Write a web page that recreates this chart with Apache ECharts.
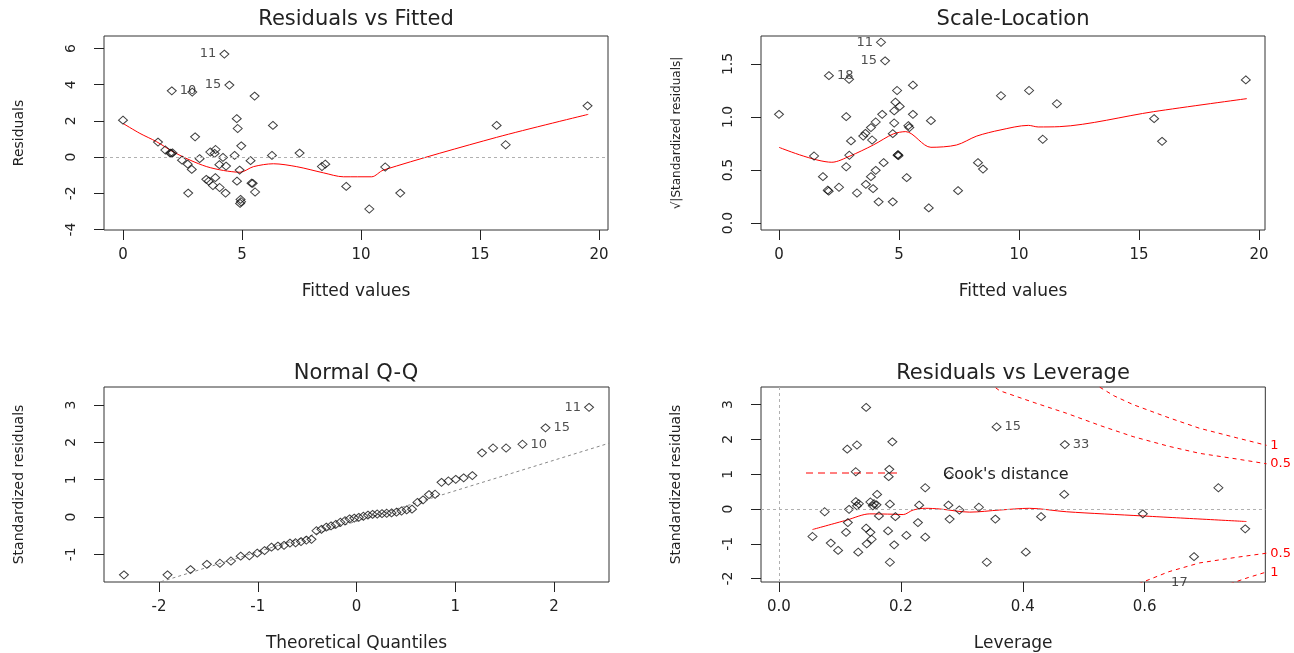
<!DOCTYPE html>
<html>
<head>
<meta charset="utf-8">
<title>lm diagnostics</title>
<script src="https://cdn.jsdelivr.net/npm/echarts@6/dist/echarts.min.js"></script>
<style>
  html, body { margin: 0; padding: 0; background: #fff; }
  #chart { width: 1294px; height: 653px; }
</style>
</head>
<body>
<div id="chart"></div>
<script>
// ---- Residuals vs Fitted ----
const rvfFitted = [0.00, 4.26, 4.47, 2.05, 2.91, 5.53, 4.78, 4.82, 6.30, 3.03, 1.47, 4.97, 1.78, 1.98, 2.03, 2.08,
  3.89, 3.67, 3.85, 4.20, 4.69, 3.22, 2.48, 6.26, 7.42, 5.36, 2.72, 2.89, 4.05, 4.33, 4.90, 8.36, 8.50, 3.50, 3.60,
  3.88, 3.78, 4.06, 4.79, 5.40, 5.45, 4.31, 2.74, 5.55, 4.94, 4.96, 4.92, 9.38, 10.35, 11.02, 11.65, 15.70, 16.08, 19.52];
const rvfResid = [2.04, 5.69, 3.98, 3.66, 3.59, 3.37, 2.12, 1.58, 1.75, 1.12, 0.83, 0.62, 0.39, 0.22, 0.20, 0.23,
  0.42, 0.28, 0.20, -0.02, 0.09, -0.09, -0.17, 0.09, 0.22, -0.20, -0.39, -0.68, -0.42, -0.50, -0.72, -0.52, -0.39, -1.23, -1.33,
  -1.14, -1.57, -1.68, -1.33, -1.44, -1.45, -1.99, -1.99, -1.93, -2.34, -2.47, -2.56, -1.62, -2.87, -0.55, -1.99, 1.75, 0.68, 2.83];
const rvfSmoothX = [0, 0.71, 1.41, 2.11, 2.82, 3.52, 4.22, 4.92, 5.48, 6.32, 7.3, 8.42, 9.26, 10.45, 10.94, 15.7, 19.55];
const rvfSmoothY = [1.86, 1.31, 0.85, 0.29, -0.17, -0.53, -0.74, -0.84, -0.53, -0.37, -0.53, -0.87, -1.09, -1.09, -0.72, 1.09, 2.36];
const rvfIdIndex = [1, 2, 3];
const rvfIdText = ['11', '15', '10'];
const rvfXTicks = [0, 5, 10, 15, 20];
const rvfYTicks = [-4, -2, 0, 2, 4, 6];

// ---- Scale-Location ----
const slFitted = [0.00, 4.25, 4.42, 2.08, 2.92, 5.58, 4.92, 4.85, 5.03, 4.80, 4.30, 5.58, 2.80, 4.03, 3.83, 4.80,
  6.33, 5.39, 5.43, 3.60, 3.51, 3.88, 4.74, 3.00, 1.46, 2.93, 4.94, 4.98, 4.96, 4.36, 4.03, 3.83, 5.32, 1.83, 2.03,
  2.07, 2.50, 3.62, 3.92, 3.25, 4.15, 4.74, 6.24, 8.29, 8.50, 7.46, 9.25, 10.42, 11.58, 10.99, 15.63, 15.96, 19.45, 2.80];
const slRootStd = [1.025, 1.705, 1.53, 1.39, 1.355, 1.30, 1.25, 1.14, 1.10, 1.057, 1.025, 1.025, 1.003, 0.953, 0.90, 0.943,
  0.965, 0.918, 0.90, 0.846, 0.82, 0.783, 0.843, 0.774, 0.632, 0.639, 0.64, 0.635, 0.645, 0.569, 0.497, 0.437, 0.428, 0.437, 0.31,
  0.30, 0.337, 0.365, 0.324, 0.283, 0.20, 0.20, 0.142, 0.569, 0.509, 0.305, 1.20, 1.25, 1.125, 0.79, 0.984, 0.77, 1.35, 0.531];
const slSmoothX = [0, 2.2, 2.96, 3.93, 4.76, 5.28, 6.33, 7.4, 8.24, 9.21, 10.39, 10.8, 11.7, 15.6, 19.49];
const slSmoothY = [0.714, 0.573, 0.632, 0.736, 0.84, 0.862, 0.714, 0.736, 0.82, 0.877, 0.921, 0.906, 0.909, 1.05, 1.173];
const slIdIndex = [1, 2, 3];
const slIdText = ['11', '15', '18'];
const slXTicks = [0, 5, 10, 15, 20];
const slYTicks = [0, 0.5, 1, 1.5];

// ---- Normal Q-Q ----
const qqTheo = [-2.355, -1.914, -1.681, -1.515, -1.383, -1.271, -1.173, -1.085, -1.005, -0.931, -0.861, -0.796, -0.734,
  -0.674, -0.617, -0.562, -0.508, -0.456, -0.405, -0.355, -0.306, -0.258, -0.210, -0.163, -0.116, -0.070, -0.023,
  0.023, 0.070, 0.116, 0.163, 0.210, 0.258, 0.306, 0.355, 0.405, 0.456, 0.508, 0.562, 0.617, 0.674, 0.734, 0.796,
  0.861, 0.931, 1.005, 1.085, 1.173, 1.271, 1.383, 1.515, 1.681, 1.914, 2.355];
const qqStd = [-1.55, -1.55, -1.41, -1.27, -1.24, -1.18, -1.05, -1.04, -0.97, -0.90, -0.81, -0.78, -0.76,
  -0.70, -0.69, -0.66, -0.62, -0.60, -0.37, -0.33, -0.27, -0.24, -0.20, -0.14, -0.10, -0.05, -0.03,
  -0.01, 0.02, 0.05, 0.07, 0.08, 0.09, 0.10, 0.11, 0.13, 0.16, 0.19, 0.21, 0.39, 0.46, 0.60, 0.61,
  0.93, 0.965, 1.01, 1.05, 1.11, 1.72, 1.85, 1.85, 1.95, 2.39, 2.94];
const qqLineX = [-2.56, 2.56];
const qqLineY = [-2.21, 1.98];
const qqIdIndex = [53, 52, 51];
const qqIdText = ['11', '15', '10'];
const qqXTicks = [-2, -1, 0, 1, 2];
const qqYTicks = [-1, 0, 1, 2, 3];

// ---- Residuals vs Leverage ----
const rvlLev = [0.143, 0.112, 0.128, 0.186, 0.126, 0.181, 0.180, 0.240, 0.161, 0.279, 0.126, 0.128, 0.115, 0.150,
  0.154, 0.160, 0.182, 0.230, 0.278, 0.328, 0.296, 0.075, 0.164, 0.191, 0.280, 0.355, 0.228, 0.113, 0.055, 0.110,
  0.143, 0.150, 0.179, 0.209, 0.240, 0.152, 0.144, 0.085, 0.189, 0.097, 0.130, 0.182, 0.341, 0.357, 0.469, 0.468,
  0.430, 0.597, 0.721, 0.765, 0.405, 0.681, 0.131, 0.156];
const rvlStd = [2.92, 1.72, 1.84, 1.93, 1.07, 1.14, 0.93, 0.61, 0.42, 0.98, 0.21, 0.09, -0.01, 0.20,
  0.09, 0.12, 0.14, 0.11, 0.11, 0.05, -0.03, -0.08, -0.20, -0.22, -0.29, -0.29, -0.39, -0.39, -0.79, -0.67,
  -0.55, -0.67, -0.63, -0.76, -0.81, -0.87, -1.00, -0.98, -1.03, -1.19, -1.24, -1.53, -1.53, 2.36, 1.85, 0.42,
  -0.22, -0.14, 0.61, -0.57, -1.24, -1.37, 0.15, 0.15];
const rvlSmoothX = [0.055, 0.111, 0.149, 0.187, 0.204, 0.22, 0.24, 0.264, 0.313, 0.362, 0.411, 0.472, 0.597, 0.767];
const rvlSmoothY = [-0.59, -0.32, -0.14, -0.15, -0.16, -0.03, 0.02, 0.0, -0.09, -0.03, 0.02, -0.08, -0.20, -0.36];
const rvlIdIndex = [43, 44];
const rvlIdText = ['15', '33'];
const rvlOffIdX = [0.657];
const rvlOffIdY = [-2.13];
const rvlOffIdText = ['17'];
const cookHalfUpX = [0.345, 0.362, 0.42, 0.472, 0.53, 0.581, 0.64, 0.69, 0.75, 0.80];
const cookHalfUpY = [3.62, 3.40, 3.05, 2.75, 2.38, 2.08, 1.80, 1.60, 1.44, 1.30];
const cookOneUpX = [0.515, 0.55, 0.581, 0.64, 0.69, 0.75, 0.80];
const cookOneUpY = [3.62, 3.25, 3.00, 2.62, 2.32, 2.05, 1.83];
const cookHalfDnX = [0.59, 0.64, 0.69, 0.75, 0.80];
const cookHalfDnY = [-2.15, -1.80, -1.55, -1.39, -1.27];
const cookOneDnX = [0.74, 0.77, 0.80];
const cookOneDnY = [-2.15, -1.97, -1.81];
const cookLevelAt = [1.83, 1.31, -1.29, -1.84];
const cookLevelText = ['1', '0.5', '0.5', '1'];
const rvlXTicks = [0, 0.2, 0.4, 0.6];
const rvlYTicks = [-2, -1, 0, 1, 2, 3];

const FONT = 'DejaVu Sans';
const INK = '#222';

const pts = (xs, ys) => xs.map((x, i) => [x, ys[i]]);

function xAxis(gi, min, max, ticks, name, fmt) {
  return {
    type: 'value', gridIndex: gi, min: min, max: max,
    axisLine: { show: false, onZero: false }, splitLine: { show: false },
    axisTick: { show: true, length: 10, customValues: ticks, lineStyle: { color: INK } },
    axisLabel: { customValues: ticks, formatter: fmt, color: INK, fontSize: 15, fontFamily: FONT, margin: 18 },
    name: name, nameLocation: 'middle', nameGap: 53,
    nameTextStyle: { color: INK, fontSize: 17, fontFamily: FONT }
  };
}

function yAxis(gi, min, max, ticks, name, fmt, nameSize) {
  return {
    type: 'value', gridIndex: gi, min: min, max: max, position: 'left',
    axisLine: { show: false, onZero: false }, splitLine: { show: false },
    axisTick: { show: true, length: 10, customValues: ticks, lineStyle: { color: INK } },
    axisLabel: { customValues: ticks, formatter: fmt, rotate: 90, color: INK, fontSize: 14, fontFamily: FONT, margin: 26 },
    name: name, nameLocation: 'middle', nameGap: 78,
    nameTextStyle: { color: INK, fontSize: nameSize, fontFamily: FONT }
  };
}

function points(gi, xs, ys, idIndex, idText, idPos) {
  const data = pts(xs, ys).map((p, i) => {
    const k = idIndex.indexOf(i);
    if (k < 0) return p;
    return { value: p, label: { show: true, formatter: idText[k], position: idPos[k], distance: 3 } };
  });
  return {
    type: 'scatter', xAxisIndex: gi, yAxisIndex: gi, data: data, silent: true, z: 3,
    symbol: 'diamond', symbolSize: [9, 8],
    itemStyle: { color: 'rgba(0,0,0,0)', borderColor: '#111', borderWidth: 1 },
    label: { color: INK, fontSize: 13, fontFamily: FONT }
  };
}

function curve(gi, xs, ys, color, type, smooth) {
  return {
    type: 'line', xAxisIndex: gi, yAxisIndex: gi, data: pts(xs, ys), silent: true, z: 2,
    symbol: 'none', smooth: smooth, clip: true,
    lineStyle: { color: color, width: 1, type: type }
  };
}

const refLine = (axis) => ({
  silent: true, symbol: 'none', label: { show: false },
  lineStyle: { color: '#b0b0b0', type: [3, 3], width: 1 },
  data: [axis === 'x' ? { xAxis: 0 } : { yAxis: 0 }]
});

const fmt1 = (v) => v.toFixed(1);
const fmt0 = (v) => String(v);

const chart = echarts.init(document.getElementById('chart'));

const rvfRed = curve(0, rvfSmoothX, rvfSmoothY, 'red', 'solid', 0.3);
rvfRed.markLine = refLine('y');
const rvlRed = curve(3, rvlSmoothX, rvlSmoothY, 'red', 'solid', 0.3);
rvlRed.markLine = refLine('y');
const rvlVert = curve(3, [], [], 'red', 'solid', false);
rvlVert.markLine = refLine('x');

const titleFont = '21px "DejaVu Sans"';

chart.setOption({
  animation: false,
  backgroundColor: '#fff',
  textStyle: { fontFamily: FONT },
  grid: [
    { left: 104, top: 36, width: 504, height: 194 },
    { left: 761, top: 36, width: 504, height: 194 },
    { left: 104, top: 387, width: 505, height: 195 },
    { left: 761, top: 387, width: 505, height: 195 }
  ].map((g) => Object.assign(g, { show: true, borderColor: '#333', borderWidth: 1, backgroundColor: 'transparent' })),
  xAxis: [
    xAxis(0, -0.798, 20.38, rvfXTicks, 'Fitted values', fmt0),
    xAxis(1, -0.75, 20.25, slXTicks, 'Fitted values', fmt0),
    xAxis(2, -2.557, 2.557, qqXTicks, 'Theoretical Quantiles', fmt0),
    xAxis(3, -0.0295, 0.798, rvlXTicks, 'Leverage', fmt1)
  ],
  yAxis: [
    yAxis(0, -4.03, 6.69, rvfYTicks, 'Residuals', fmt0, 14),
    yAxis(1, -0.066, 1.764, slYTicks, '\u221A|Standardized residuals|', fmt1, 12),
    yAxis(2, -1.743, 3.485, qqYTicks, 'Standardized residuals', fmt0, 14),
    yAxis(3, -2.098, 3.506, rvlYTicks, 'Standardized residuals', fmt0, 14),
    {
      type: 'value', gridIndex: 3, min: -2.098, max: 3.506, position: 'right',
      axisLine: { show: false, onZero: false }, splitLine: { show: false }, axisTick: { show: false },
      axisLabel: {
        customValues: cookLevelAt, color: 'red', fontSize: 13, fontFamily: FONT, margin: 5,
        formatter: (v) => {
          let k = 0;
          cookLevelAt.forEach((a, i) => { if (Math.abs(a - v) < Math.abs(cookLevelAt[k] - v)) k = i; });
          return cookLevelText[k];
        }
      }
    }
  ],
  graphic: [
    { type: 'text', x: 356, y: 20, style: { text: 'Residuals vs Fitted', font: titleFont, fill: INK, textAlign: 'center', textVerticalAlign: 'middle' } },
    { type: 'text', x: 1013, y: 20, style: { text: 'Scale-Location', font: titleFont, fill: INK, textAlign: 'center', textVerticalAlign: 'middle' } },
    { type: 'text', x: 356, y: 374, style: { text: 'Normal Q-Q', font: titleFont, fill: INK, textAlign: 'center', textVerticalAlign: 'middle' } },
    { type: 'text', x: 1013, y: 374, style: { text: 'Residuals vs Leverage', font: titleFont, fill: INK, textAlign: 'center', textVerticalAlign: 'middle' } },
    { type: 'line', shape: { x1: 806, y1: 473, x2: 897, y2: 473 }, style: { stroke: 'red', lineWidth: 1, lineDash: [7, 5] } },
    { type: 'text', x: 943, y: 475, style: { text: "Cook's distance", font: '16px "DejaVu Sans"', fill: INK, textVerticalAlign: 'middle' } }
  ],
  series: [
    points(0, rvfFitted, rvfResid, rvfIdIndex, rvfIdText, ['left', 'left', 'right']),
    rvfRed,
    points(1, slFitted, slRootStd, slIdIndex, slIdText, ['left', 'left', 'right']),
    curve(1, slSmoothX, slSmoothY, 'red', 'solid', 0.3),
    curve(2, qqLineX, qqLineY, '#888', [3, 3], false),
    points(2, qqTheo, qqStd, qqIdIndex, qqIdText, ['left', 'right', 'right']),
    rvlVert,
    rvlRed,
    curve(3, cookHalfUpX, cookHalfUpY, 'red', [4, 4], false),
    curve(3, cookOneUpX, cookOneUpY, 'red', [4, 4], false),
    curve(3, cookHalfDnX, cookHalfDnY, 'red', [4, 4], false),
    curve(3, cookOneDnX, cookOneDnY, 'red', [4, 4], false),
    points(3, rvlLev, rvlStd, rvlIdIndex, rvlIdText, ['right', 'right']),
    {
      type: 'scatter', xAxisIndex: 3, yAxisIndex: 3, silent: true, clip: false, symbolSize: 0,
      data: pts(rvlOffIdX, rvlOffIdY).map((p, i) => ({ value: p, label: { show: true, formatter: rvlOffIdText[i] } })),
      label: { position: 'inside', color: INK, fontSize: 13, fontFamily: FONT }
    }
  ]
});
</script>
</body>
</html>
